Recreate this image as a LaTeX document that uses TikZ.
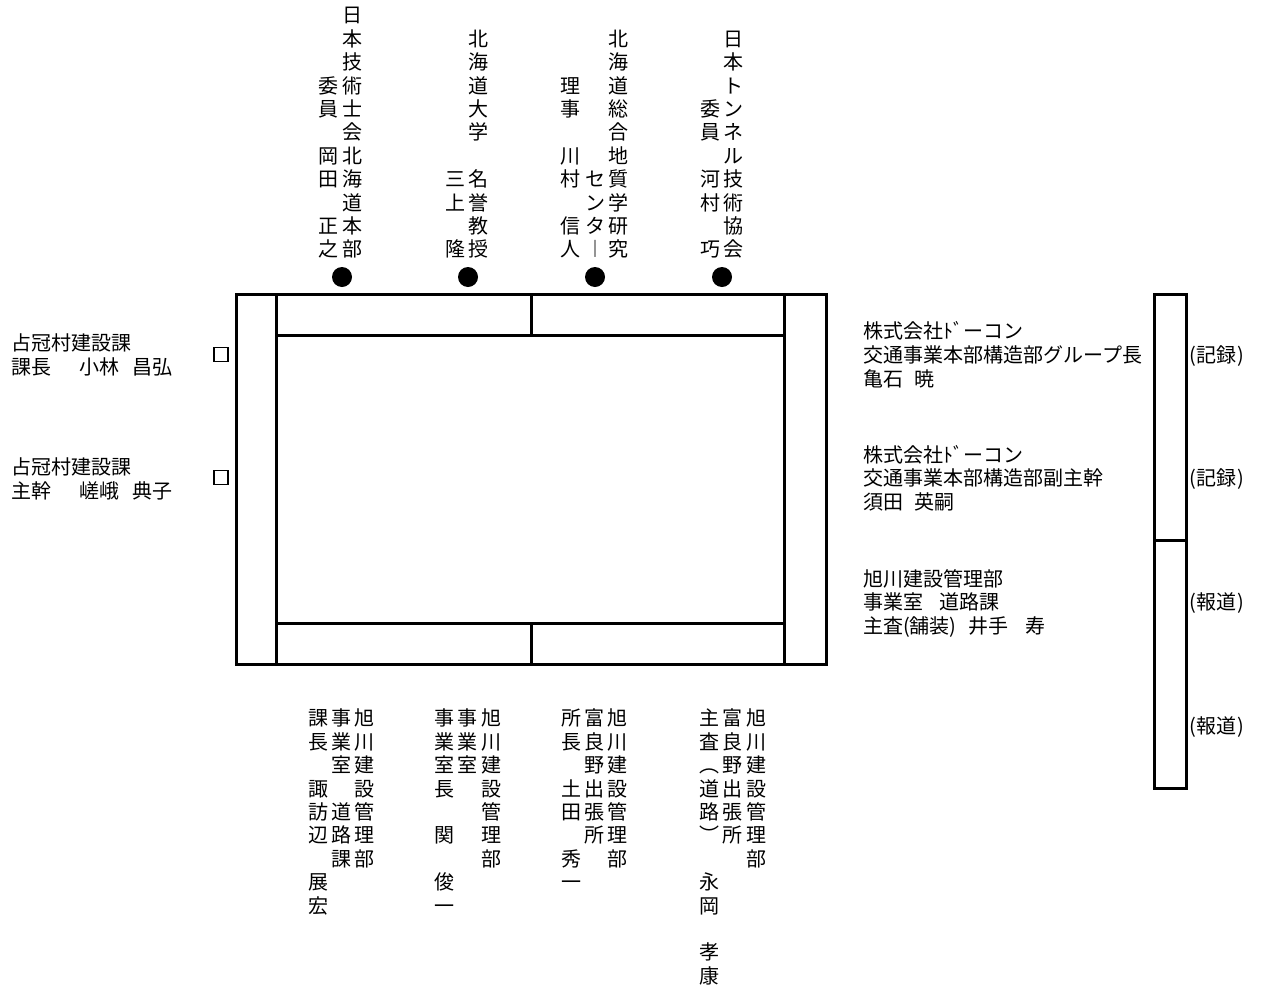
\documentclass[tikz,border=0pt]{standalone}
\usepackage{fontspec}
\setmainfont{Noto Sans CJK JP}
\newcommand\myvs{\rule{0pt}{18pt}}
\begin{document}
\begin{tikzpicture}[x=1pt,y=-1pt,
  vt/.style={font=\fontsize{20}{23.4}\selectfont, align=center, inner sep=0pt, anchor=north},
  ht/.style={font=\fontsize{20}{24}\selectfont, inner sep=0pt, anchor=base west},
  frame/.style={line width=3pt},
  seat/.style={circle, fill=black, inner sep=0pt, minimum size=20pt},
  sqbox/.style={draw, line width=1.6pt, inner sep=0pt, minimum size=14pt}]
\useasboundingbox (0,0) rectangle (1263,1004);

% ---- top vertical labels ----
\node[vt] (t1r) at (352,4.6) {\myvs 日\\本\\技\\術\\士\\会\\北\\海\\道\\本\\部};
\node[vt] (t1l) at (328,4.6) {\myvs　\\　\\　\\委\\員\\　\\岡\\田\\　\\正\\之};
\node[vt] (t2r) at (478,4.6) {\myvs　\\北\\海\\道\\大\\学\\　\\名\\誉\\教\\授};
\node[vt] (t2l) at (455,4.6) {\myvs　\\　\\　\\　\\　\\　\\　\\三\\上\\　\\隆};
\node[vt] (t3r) at (618,4.6) {\myvs　\\北\\海\\道\\総\\合\\地\\質\\学\\研\\究};
\node[vt] (t3m) at (595,4.6) {\myvs　\\　\\　\\　\\　\\　\\　\\セ\\ン\\タ\\︱};
\node[vt] (t3l) at (570,4.6) {\myvs　\\　\\　\\理\\事\\　\\川\\村\\　\\信\\人};
\node[vt] (t4r) at (733,4.6) {\myvs　\\日\\本\\ト\\ン\\ネ\\ル\\技\\術\\協\\会};
\node[vt] (t4l) at (710,4.6) {\myvs　\\　\\　\\　\\委\\員\\　\\河\\村\\　\\巧};

% ---- seats ----
\node[seat] (d1) at (342,277) {};
\node[seat] (d2) at (468,277) {};
\node[seat] (d3) at (595,277) {};
\node[seat] (d4) at (722,277) {};

% ---- table frame ----
\draw[frame] (236.5,294.5) rectangle (826.5,664.5);
\draw[frame] (276.5,294.5) -- (276.5,664.5);
\draw[frame] (784.5,294.5) -- (784.5,664.5);
\draw[frame] (276.5,335) -- (784.5,335);
\draw[frame] (276.5,623.5) -- (784.5,623.5);
\draw[frame] (531.5,294.5) -- (531.5,335);
\draw[frame] (531.5,623.5) -- (531.5,664.5);

% ---- bottom vertical labels ----
\node[vt] (b1r) at (364,707.6) {\myvs 旭\\川\\建\\設\\管\\理\\部};
\node[vt] (b1m) at (341,707.6) {\myvs 事\\業\\室\\　\\道\\路\\課};
\node[vt] (b1l) at (318,707.6) {\myvs 課\\長\\　\\諏\\訪\\辺\\　\\展\\宏};
\node[vt] (b2r) at (491,707.6) {\myvs 旭\\川\\建\\設\\管\\理\\部};
\node[vt] (b2m) at (467,707.6) {\myvs 事\\業\\室};
\node[vt] (b2l) at (444,707.6) {\myvs 事\\業\\室\\長\\　\\関\\　\\俊\\一};
\node[vt] (b3r) at (617,707.6) {\myvs 旭\\川\\建\\設\\管\\理\\部};
\node[vt] (b3m) at (594,707.6) {\myvs 富\\良\\野\\出\\張\\所};
\node[vt] (b3l) at (571,707.6) {\myvs 所\\長\\　\\土\\田\\　\\秀\\一};
\node[vt] (b4r) at (756,707.6) {\myvs 旭\\川\\建\\設\\管\\理\\部};
\node[vt] (b4m) at (732,707.6) {\myvs 富\\良\\野\\出\\張\\所};
\node[vt] (b4l) at (709,707.6) {\myvs 主\\査\\︵\\道\\路\\︶\\　\\永\\岡\\　\\孝\\康};

% ---- left side ----
\node[ht] (l1a) at (11,350.6) {占冠村建設課};
\node[ht] (l1b) at (11,374.6) {課長\hspace{28pt}小林\hspace{13pt}昌弘};
\node[ht] (l2a) at (11,474.6) {占冠村建設課};
\node[ht] (l2b) at (11,498.6) {主幹\hspace{28pt}嵯峨\hspace{13pt}典子};
\node[sqbox] (sq1) at (221,354.5) {};
\node[sqbox] (sq2) at (221,477.5) {};

% ---- right side ----
\node[ht] (r1a) at (863,338.6) {株式会社ﾄﾞーコン};
\node[ht] (r1b) at (863,362.6) {交通事業本部構造部グループ長};
\node[ht] (r1c) at (863,386.6) {亀石\hspace{11pt}暁};
\node[ht] (r2a) at (863,462.6) {株式会社ﾄﾞーコン};
\node[ht] (r2b) at (863,485.6) {交通事業本部構造部副主幹};
\node[ht] (r2c) at (863,509.6) {須田\hspace{11pt}英嗣};
\node[ht] (r3a) at (863,586.6) {旭川建設管理部};
\node[ht] (r3b) at (863,609.6) {事業室\hspace{16pt}道路課};
\node[ht] (r3c) at (863,633.6) {主査(舗装)\hspace{12pt}井手\hspace{17pt}寿};

\draw[frame] (1154,294.5) rectangle (1186,788);
\draw[frame] (1154,540) -- (1186,540);

\node[ht] (k1) at (1189,362.6) {(\hspace{1pt}記録\hspace{1pt})};
\node[ht] (k2) at (1189,485.6) {(\hspace{1pt}記録\hspace{1pt})};
\node[ht] (k3) at (1189,609.6) {(\hspace{1pt}報道\hspace{1pt})};
\node[ht] (k4) at (1189,733.6) {(\hspace{1pt}報道\hspace{1pt})};
\end{tikzpicture}
\end{document}
